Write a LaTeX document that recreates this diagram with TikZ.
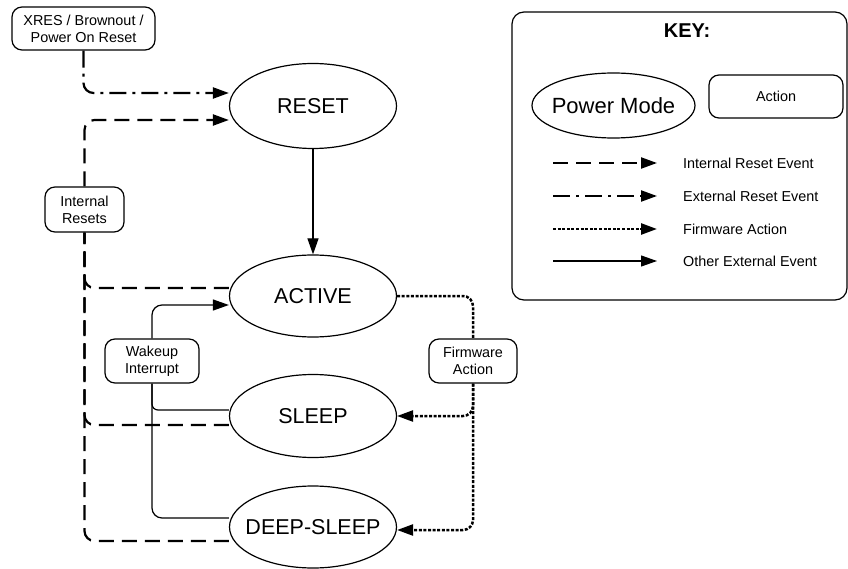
\documentclass[tikz,border=0pt]{standalone}
\usepackage{fontspec}
\setmainfont{Liberation Sans}
\usetikzlibrary{shapes.geometric,arrows.meta,calc}
\pgfdeclarelayer{bg}
\pgfsetlayers{bg,main}
\newcommand\smallf{\fontsize{14.4}{17}\selectfont}
\newcommand\bigf{\fontsize{21.5}{26}\selectfont}
\newcommand\zb[1]{\makebox[0pt]{#1}}
\tikzset{
  mode/.style={ellipse,draw,line width=1.2pt,fill=white,inner sep=0pt,minimum width=167pt,minimum height=83pt,font=\bigf},
  actbox/.style={rectangle,draw,line width=1.2pt,fill=white,rounded corners=10pt,inner sep=0pt,align=center,font=\smallf},
  tip/.style={-{Triangle[length=16pt,width=11pt]}},
  intreset/.style={line width=2.2pt,dash pattern=on 15pt off 8pt},
  extreset/.style={line width=2.2pt,dash pattern=on 17pt off 6pt on 3pt off 6pt},
  fwline/.style={line width=2.5pt,dash pattern=on 3pt off 1.6pt},
  otherline/.style={line width=1.2pt},
  lbl/.style={anchor=west,font=\smallf,inner sep=0pt}
}
\begin{document}
\begin{tikzpicture}[x=1pt,y=-1pt]
\useasboundingbox (0,0) rectangle (848,569);
% nodes
\node[actbox,minimum width=143pt,minimum height=43pt] (xres) at (83.5,28.5) {XRES / Brownout /\\Power On Reset};
\node[mode,minimum height=85pt] (reset) at (313,106) {\zb{RESET}};
\node[mode,minimum height=82pt] (active) at (313,296) {\zb{ACTIVE}};
\node[mode,minimum height=83pt] (sleep) at (313,416) {\zb{SLEEP}};
\node[mode,minimum height=82pt] (deep) at (313,527) {\zb{DEEP-SLEEP}};
\node[actbox,minimum width=79pt,minimum height=45pt] (intres) at (84.5,209.5) {Internal\\Resets};
\node[actbox,minimum width=94pt,minimum height=44pt] (wake) at (152,361) {Wakeup\\Interrupt};
\node[actbox,minimum width=88pt,minimum height=44pt] (fw) at (473,361) {Firmware\\Action};
% key
\node[draw,line width=1.2pt,rounded corners=12pt,minimum width=335pt,minimum height=288pt,inner sep=0pt] (keybox) at (679.5,156) {};
\node[font=\fontsize{20}{24}\selectfont\bfseries,inner sep=0pt] (keytitle) at (687,31) {KEY:};
\node[mode,minimum width=163pt,minimum height=65pt,font=\fontsize{22}{26}\selectfont] (pm) at (613.5,105.5) {\zb{Power Mode}};
\node[actbox,minimum width=134pt,minimum height=43pt] (act) at (776,96.5) {Action};
\coordinate (l1s) at (553,163); \coordinate (l1e) at (657,163);
\coordinate (l2s) at (553,196); \coordinate (l2e) at (657,196);
\coordinate (l3s) at (553,229); \coordinate (l3e) at (657,229);
\coordinate (l4s) at (553,261); \coordinate (l4e) at (657,261);
\node[lbl] (t1) at (683,163) {Internal Reset Event};
\node[lbl] (t2) at (683,196) {External Reset Event};
\node[lbl] (t3) at (683,229) {Firmware Action};
\node[lbl] (t4) at (683,261) {Other External Event};
\begin{pgfonlayer}{bg}
\draw[intreset,tip] (l1s) -- (l1e);
\draw[extreset,tip] (l2s) -- (l2e);
\draw[fwline,tip] (l3s) -- (l3e);
\draw[otherline,tip] (l4s) -- (l4e);
% connectors
\draw[extreset,tip,rounded corners=10pt] (xres.south) |- ($(reset.west)+(0,-13)$);
\draw[intreset,tip,rounded corners=10pt] (intres.north) |- ($(reset.west)+(0,14)$);
\draw[intreset,rounded corners=10pt] ($(active.west)+(0,-8)$) -| (intres.south);
\draw[intreset,rounded corners=10pt] ($(sleep.west)+(0,9)$) -| (intres.south);
\draw[intreset,rounded corners=10pt] ($(deep.west)+(0,14)$) -| (intres.south);
\draw[otherline,tip] (reset.south) -- (active.north);
\draw[otherline,tip,rounded corners=10pt] (wake.north) |- ($(active.west)+(0,9)$);
\draw[otherline,rounded corners=6pt] ($(sleep.west)+(0,-6)$) -| (wake.south);
\draw[otherline,rounded corners=10pt] ($(deep.west)+(0,-9)$) -| (wake.south);
\draw[fwline,rounded corners=10pt] (active.east) -| (fw.north);
\draw[fwline,tip,rounded corners=10pt] (fw.south) |- (sleep.east);
\draw[fwline,tip,rounded corners=10pt] (fw.south) |- ($(deep.east)+(0,3)$);
\end{pgfonlayer}
\end{tikzpicture}
\end{document}
